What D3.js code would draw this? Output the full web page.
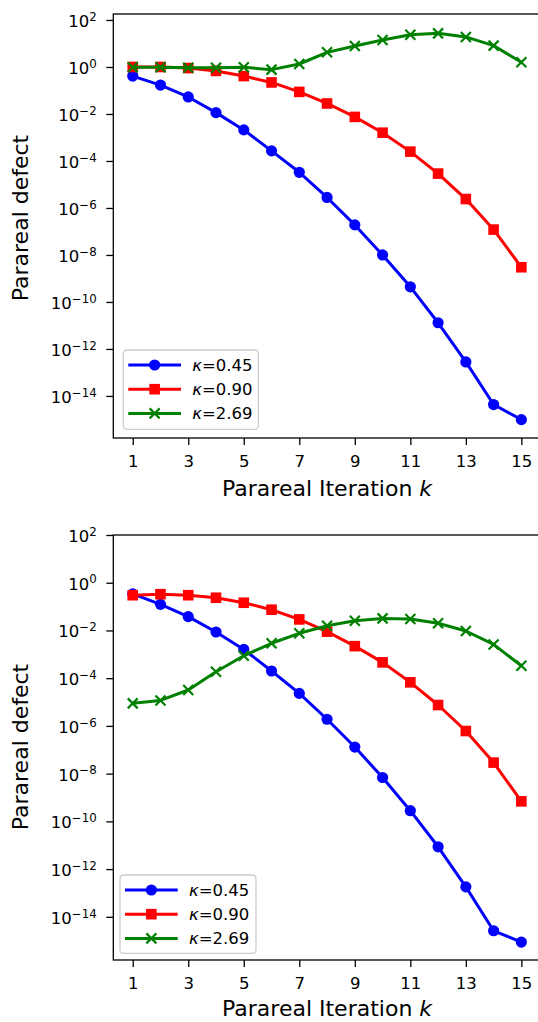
<!DOCTYPE html>
<html>
<head>
<meta charset="utf-8">
<script src="https://cdn.jsdelivr.net/npm/d3@7"></script>
<style>
  html, body { margin: 0; padding: 0; background: #fff; }
  svg { display: block; }
  text { font-family: "DejaVu Sans", sans-serif; fill: #000; }
</style>
</head>
<body>
<svg id="chart" width="538" height="1022"></svg>
<script>
// Parareal iteration index (shared by both panels)
const iterations = [1, 2, 3, 4, 5, 6, 7, 8, 9, 10, 11, 12, 13, 14, 15];
const xTickValues = [1, 3, 5, 7, 9, 11, 13, 15];
const yTickExponents = [2, 0, -2, -4, -6, -8, -10, -12, -14];
const seriesLabels = ["0.45", "0.90", "2.69"];

// Upper panel: parareal defect per iteration
const upperKappa045 = [0.41, 0.17, 0.053, 0.0114, 0.0021, 2.7e-4, 3.3e-5, 2.8e-6, 1.9e-7, 1.0e-8, 4.4e-10, 1.3e-11, 2.8e-13, 4.3e-15, 9.8e-16];
const upperKappa090 = [1.0, 1.0, 0.9, 0.68, 0.41, 0.22, 0.087, 0.028, 0.0075, 0.0016, 2.5e-4, 2.9e-5, 2.4e-6, 1.2e-7, 3.0e-9];
const upperKappa269 = [0.97, 0.97, 0.93, 0.93, 0.97, 0.77, 1.34, 4.2, 7.8, 14.1, 23.6, 27, 19, 8.1, 1.58];

// Lower panel: parareal defect per iteration
const lowerKappa045 = [0.34, 0.124, 0.038, 0.0086, 0.0016, 2.0e-4, 2.3e-5, 1.9e-6, 1.3e-7, 6.9e-9, 2.8e-10, 8.6e-12, 1.8e-13, 2.6e-15, 8.7e-16];
const lowerKappa090 = [0.30, 0.33, 0.30, 0.235, 0.145, 0.074, 0.029, 0.0089, 0.0022, 4.6e-4, 6.7e-5, 7.5e-6, 6.1e-7, 2.9e-8, 6.9e-10];
const lowerKappa269 = [8.8e-6, 1.17e-5, 3.2e-5, 1.86e-4, 8.7e-4, 0.0029, 0.0076, 0.0158, 0.0257, 0.032, 0.030, 0.020, 0.0095, 0.0026, 3.3e-4];

const colors = ["#0000ff", "#ff0000", "#008000"];
const markers = ["circle", "square", "cross"];

const svg = d3.select("#chart");

const panels = [
  { top: 14, bottom: 438, yMinExp: -15.79, yMaxExp: 2.255, ylabelY: 218, xlabelDy: 58,
    series: [upperKappa045, upperKappa090, upperKappa269],
    legend: { x: 123.3, y: 350, w: 135, h: 79.3 } },
  { top: 535, bottom: 960, yMinExp: -15.81, yMaxExp: 2.0, ylabelY: 747, xlabelDy: 56,
    series: [lowerKappa045, lowerKappa090, lowerKappa269],
    legend: { x: 120, y: 875, w: 136, h: 78.3 } }
];

const left = 113.3, right = 540.8;
const x = d3.scaleLinear().domain([0.3, 15.7]).range([left, right]);

function drawMarker(g, type, color) {
  if (type === "circle") {
    g.append("circle").attr("r", 5.6).attr("fill", color);
  } else if (type === "square") {
    g.append("rect").attr("x", -5.3).attr("y", -5.3).attr("width", 10.6).attr("height", 10.6).attr("fill", color);
  } else {
    g.append("path").attr("d", "M-5,-5L5,5M-5,5L5,-5")
      .attr("stroke", color).attr("stroke-width", 2.2).attr("fill", "none");
  }
}

function supLabel(sel, e) {
  sel.text(null);
  sel.append("tspan").text("10");
  sel.append("tspan").attr("font-size", 11.8).attr("dy", -6.2)
    .text(e < 0 ? "\u2212" + Math.abs(e) : String(e));
}

panels.forEach(p => {
  const y = d3.scaleLog()
    .domain([Math.pow(10, p.yMinExp), Math.pow(10, p.yMaxExp)])
    .range([p.bottom, p.top]);

  const g = svg.append("g");

  // series: line then markers, in order
  const line = d3.line().x((d, i) => x(iterations[i])).y(d => y(d));
  p.series.forEach((vals, si) => {
    const sg = g.append("g");
    sg.append("path").datum(vals).attr("d", line)
      .attr("fill", "none").attr("stroke", colors[si]).attr("stroke-width", 3)
      .attr("stroke-linejoin", "round");
    vals.forEach((v, i) => {
      const mg = sg.append("g").attr("transform", `translate(${x(iterations[i])},${y(v)})`);
      drawMarker(mg, markers[si], colors[si]);
    });
  });

  // x axis
  const xa = g.append("g").attr("transform", `translate(0,${p.bottom})`)
    .call(d3.axisBottom(x).tickValues(xTickValues).tickSize(7).tickPadding(10.3).tickSizeOuter(0).tickFormat(d3.format("d")));
  xa.select(".domain").remove();
  xa.selectAll(".tick line").attr("stroke-width", 1.3);
  xa.selectAll(".tick text").attr("font-size", 16.5).attr("font-family", "DejaVu Sans");

  // y axis
  const ya = g.append("g").attr("transform", `translate(${left},0)`)
    .call(d3.axisLeft(y).tickValues(yTickExponents.map(e => Math.pow(10, e))).tickSize(7).tickPadding(9.6).tickSizeOuter(0));
  ya.select(".domain").remove();
  ya.selectAll(".tick line").attr("stroke-width", 1.3);
  ya.selectAll(".tick text").attr("font-size", 16.5).attr("font-family", "DejaVu Sans").attr("dy", "0.39em")
    .each(function(d) { supLabel(d3.select(this), Math.round(Math.log10(d))); });

  // frame
  g.append("rect").attr("x", left).attr("y", p.top)
    .attr("width", right - left).attr("height", p.bottom - p.top)
    .attr("fill", "none").attr("stroke", "#000").attr("stroke-width", 1.3);

  // axis labels
  const xl = g.append("text").attr("x", (left + right) / 2).attr("y", p.bottom + p.xlabelDy)
    .attr("text-anchor", "middle").attr("font-size", 22);
  xl.append("tspan").text("Parareal Iteration ");
  xl.append("tspan").attr("font-style", "italic").text("k");

  g.append("text").attr("transform", `translate(28,${p.ylabelY}) rotate(-90)`)
    .attr("text-anchor", "middle").attr("font-size", 22).text("Parareal defect");

  // legend
  const L = p.legend;
  const lg = g.append("g");
  lg.append("rect").attr("x", L.x).attr("y", L.y).attr("width", L.w).attr("height", L.h)
    .attr("rx", 3.5).attr("fill", "rgba(255,255,255,0.8)").attr("stroke", "#cccccc").attr("stroke-width", 1.3);
  seriesLabels.forEach((lab, si) => {
    const ry = L.y + 15 + si * 24.2;
    const x0 = L.x + 5, x1 = L.x + 57.7;
    lg.append("line").attr("x1", x0).attr("x2", x1).attr("y1", ry).attr("y2", ry)
      .attr("stroke", colors[si]).attr("stroke-width", 3);
    const mg = lg.append("g").attr("transform", `translate(${(x0 + x1) / 2},${ry})`);
    drawMarker(mg, markers[si], colors[si]);
    const t = lg.append("text").attr("x", L.x + 69).attr("y", ry + 6).attr("font-size", 16.5);
    t.append("tspan").attr("font-style", "italic").text("\u03ba");
    t.append("tspan").text("=" + lab);
  });
});
</script>
</body>
</html>
